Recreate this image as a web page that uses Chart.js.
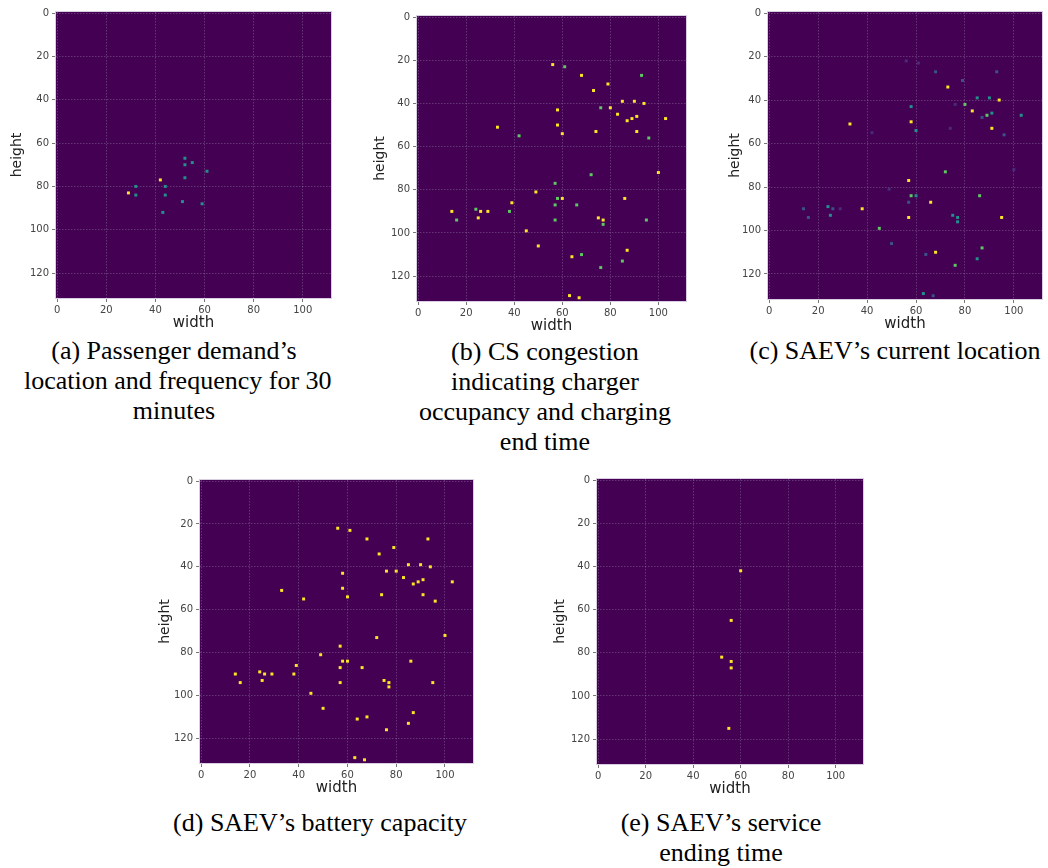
<!DOCTYPE html>
<html>

<head>
<meta charset="utf-8" />
<title>SAEV state maps</title>
<script src="https://cdn.jsdelivr.net/npm/chart.js@4.4.0/dist/chart.umd.min.js"></script>
<style type="text/css">
    body {
        margin: 0;
        background: #ffffff;
        width: 1048px;
        height: 868px;
        position: relative;
        overflow: hidden;
    }
    canvas {
        position: absolute;
    }
    .caption {
        position: absolute;
        width: 300px;
        font-family: "Liberation Serif", "Times New Roman", serif;
        font-size: 26px;
        line-height: 30px;
        text-align: center;
        color: #000;
        white-space: nowrap;
    }
</style>
</head>

<body>

<canvas id="chart_a"></canvas>
<canvas id="chart_b"></canvas>
<canvas id="chart_c"></canvas>
<canvas id="chart_d"></canvas>
<canvas id="chart_e"></canvas>

<div class="caption" style="left:24px; top:336px;">(a) Passenger demand’s<br>location and frequency for 30<br>minutes</div>
<div class="caption" style="left:395px; top:337px;">(b) CS congestion<br>indicating charger<br>occupancy and charging<br>end time</div>
<div class="caption" style="left:745px; top:336px;">(c) SAEV’s current location</div>
<div class="caption" style="left:170px; top:808px;">(d) SAEV’s battery capacity</div>
<div class="caption" style="left:571px; top:808px;">(e) SAEV’s service<br>ending time</div>

<script type="text/javascript">
// Grid ticks (image is 112 wide, 132 high).
const widthTicks = [0, 20, 40, 60, 80, 100];
const heightTicks = [0, 20, 40, 60, 80, 100, 120];

// (a) passenger demand: [width, height]
const demandLow = [[52, 67], [52, 70], [55, 69], [61, 73], [52, 76], [32, 80], [44, 80],
    [32, 84], [44, 84], [51, 87], [59, 88], [43, 92]];
const demandHigh = [[42, 77], [29, 83]];

// (b) CS congestion
const congestionHigh = [[56, 22], [68, 27], [79, 31], [73, 34], [85, 39], [90, 39], [94, 40],
    [80, 42], [58, 43], [83, 45], [91, 46], [89, 47], [87, 48], [103, 47], [33, 51], [58, 50],
    [74, 53], [91, 53], [60, 54], [100, 72], [49, 81], [60, 84], [86, 84], [39, 86], [14, 90],
    [26, 90], [29, 90], [25, 93], [75, 93], [77, 94], [45, 99], [50, 106], [87, 108], [64, 111],
    [63, 129], [67, 130]];
const congestionMid = [[61, 23], [93, 27], [76, 42], [42, 55], [96, 56], [72, 73], [57, 77],
    [58, 84], [57, 87], [66, 87], [24, 89], [38, 90], [16, 94], [57, 94], [77, 96], [95, 94],
    [68, 110], [85, 113], [76, 116]];

// (c) SAEV current location, grouped by colour level
const locationFaint = [[56, 22], [61, 23], [76, 42], [74, 53], [42, 55], [100, 72], [49, 81], [29, 90]];
const locationLow = [[68, 27], [93, 27], [79, 31], [87, 48], [96, 56], [57, 87], [14, 90], [26, 90],
    [16, 94], [50, 106], [64, 111], [67, 130]];
const locationMid = [[85, 39], [90, 39], [58, 43], [91, 46], [103, 47], [60, 54], [60, 84], [24, 89],
    [25, 93], [75, 93], [77, 94], [77, 96], [85, 113], [63, 129]];
const locationUpper = [[80, 42], [89, 47], [72, 73], [58, 84], [86, 84], [45, 99], [87, 108], [76, 116]];
const locationHigh = [[73, 34], [94, 40], [83, 45], [33, 51], [58, 50], [91, 53], [57, 77], [66, 87],
    [38, 90], [57, 94], [95, 94], [68, 110]];

// (d) SAEV battery capacity
const batteryHigh = [[56, 22], [61, 23], [68, 27], [93, 27], [79, 31], [73, 34], [85, 39], [90, 39],
    [94, 40], [76, 42], [80, 42], [58, 43], [83, 45], [91, 46], [89, 47], [103, 47], [87, 48],
    [58, 50], [33, 51], [74, 53], [91, 53], [60, 54], [42, 55], [96, 56], [100, 72], [72, 73],
    [57, 77], [49, 81], [58, 84], [60, 84], [86, 84], [39, 86], [57, 87], [66, 87], [24, 89],
    [14, 90], [26, 90], [29, 90], [38, 90], [25, 93], [75, 93], [16, 94], [57, 94], [77, 94],
    [95, 94], [77, 96], [45, 99], [50, 106], [87, 108], [68, 110], [64, 111], [85, 113],
    [76, 116], [63, 129], [67, 130]];

// (e) SAEV service ending time
const serviceHigh = [[60, 42], [56, 65], [52, 82], [56, 84], [56, 87], [55, 115]];

Chart.defaults.font.family = "'DejaVu Sans', sans-serif";

var heatmapFrame = {
    id: 'heatmapFrame',
    beforeDraw(chart) {
        let a = chart.chartArea;
        let ctx = chart.ctx;
        ctx.save();
        ctx.fillStyle = '#440154';
        ctx.fillRect(a.left, a.top, a.right - a.left, a.bottom - a.top);
        ctx.restore();
    },
    afterDraw(chart) {
        let a = chart.chartArea;
        let ctx = chart.ctx;
        ctx.save();
        ctx.strokeStyle = '#d9cde2';
        ctx.lineWidth = 1;
        ctx.strokeRect(a.left - 0.5, a.top - 0.5, a.right - a.left + 1, a.bottom - a.top + 1);
        ctx.restore();
    },
};

function cells(list, color) {
    return {
        data: list.map(p => ({x: p[0], y: p[1]})),
        backgroundColor: color,
        pointStyle: 'rect',
        pointRadius: 2.1,
        pointBorderWidth: 0,
        borderWidth: 0,
    };
}

function axis(ticks, title, titleSize, titlePad) {
    return {
        type: 'linear',
        grid: {
            color: 'rgba(175, 165, 190, 0.32)',
            lineWidth: 1,
            tickColor: '#777',
            tickLength: 4,
        },
        border: {
            display: false,
            dash: [1.5, 1.5],
        },
        ticks: {
            color: '#444',
            font: {size: 10},
            padding: 2,
            callback: v => String(v),
        },
        afterBuildTicks: s => { s.ticks = ticks.map(v => ({value: v})); },
        title: {
            display: true,
            text: title,
            color: '#222',
            font: {size: titleSize},
            padding: titlePad,
        },
    };
}

// area = [left, top, right, bottom] of the image inside the page
function makePanel(id, area, yTitlePad, datasets) {
    const yW = 54, padT = 8, padR = 6, xH = 34;
    let canvas = document.getElementById(id);
    canvas.width = yW + (area[2] - area[0]) + padR;
    canvas.height = padT + (area[3] - area[1]) + xH;
    canvas.style.left = (area[0] - yW) + 'px';
    canvas.style.top = (area[1] - padT) + 'px';

    let x = axis(widthTicks, 'width', 15, {top: 0, bottom: 0});
    x.min = -0.5;
    x.max = 111.5;
    x.position = 'bottom';
    x.afterFit = s => { s.height = xH; };

    let y = axis(heightTicks, 'height', 14, {top: yTitlePad, bottom: 0});
    y.min = -0.5;
    y.max = 131.5;
    y.reverse = true;
    y.ticks.padding = 3;
    y.afterFit = s => { s.width = yW; };

    new Chart(canvas, {
        type: 'scatter',
        data: {datasets: datasets},
        options: {
            responsive: false,
            animation: false,
            events: [],
            layout: {padding: {top: padT, right: padR, left: 0, bottom: 0}},
            scales: {x: x, y: y},
            plugins: {
                legend: {display: false},
                tooltip: {enabled: false},
            },
        },
        plugins: [heatmapFrame],
    });
}

makePanel('chart_a', [56, 11, 331, 298], 7, [
    cells(demandLow, '#21918c'),
    cells(demandHigh, '#fde725'),
]);
makePanel('chart_b', [417, 15, 686, 301], 9, [
    cells(congestionMid, '#5ec962'),
    cells(congestionHigh, '#fde725'),
]);
makePanel('chart_c', [768, 11, 1042, 299], 13, [
    cells(locationFaint, '#472c7a'),
    cells(locationLow, '#3b528b'),
    cells(locationMid, '#21918c'),
    cells(locationUpper, '#5ec962'),
    cells(locationHigh, '#fde725'),
]);
makePanel('chart_d', [200, 479, 473, 763], 11, [
    cells(batteryHigh, '#fde725'),
]);
makePanel('chart_e', [597, 478, 863, 764], 9, [
    cells(serviceHigh, '#fde725'),
]);
</script>

</body>
</html>
